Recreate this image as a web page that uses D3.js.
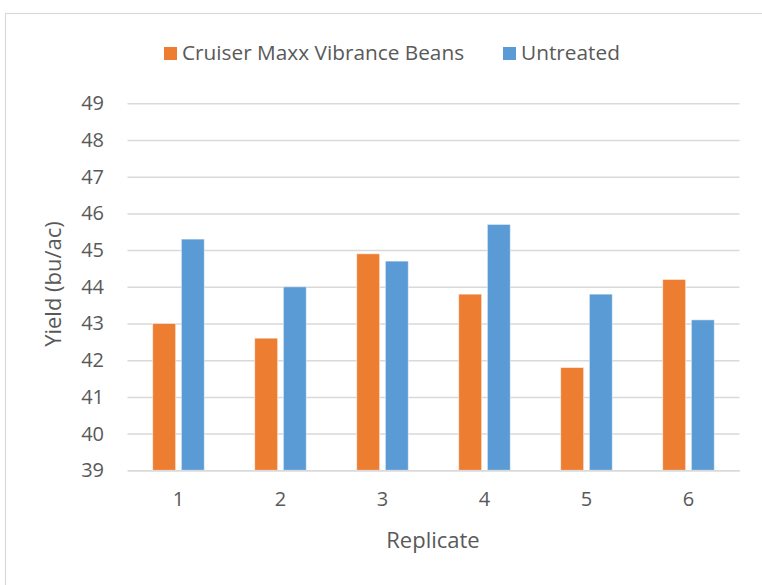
<!DOCTYPE html>
<html>
<head>
<meta charset="utf-8">
<script src="https://cdn.jsdelivr.net/npm/d3@7"></script>
<style>
  html, body { margin: 0; padding: 0; background: #fff; }
  svg text { font-family: "Open Sans", "Noto Sans", sans-serif; fill: #595959; }
</style>
</head>
<body>
<svg id="chart" width="762" height="585"></svg>
<script>
const categories = ["1", "2", "3", "4", "5", "6"];
const seriesNames = ["Cruiser Maxx Vibrance Beans", "Untreated"];
const treatedValues = [43.0, 42.6, 44.9, 43.8, 41.8, 44.2];
const untreatedValues = [45.3, 44.0, 44.7, 45.7, 43.8, 43.1];
const yTicks = [39, 40, 41, 42, 43, 44, 45, 46, 47, 48, 49];
const colors = ["#ED7D31", "#5B9BD5"];

const svg = d3.select("#chart");
const W = 762, H = 585;
const plot = { left: 127.5, right: 739.5, top: 103.3, bottom: 470.3 };

// outer border
svg.append("rect")
  .attr("x", 5.5).attr("y", 13.5)
  .attr("width", W + 10).attr("height", H + 10)
  .attr("fill", "none").attr("stroke", "#d9d9d9").attr("stroke-width", 1.2);

const y = d3.scaleLinear().domain([39, 49]).range([plot.bottom, plot.top]);
const x0 = d3.scaleBand().domain(categories).range([plot.left, plot.right])
  .paddingInner(0.494).paddingOuter(0.247);
const x1 = d3.scaleBand().domain(seriesNames).range([0, x0.bandwidth()]).paddingInner(0.2);

// gridlines
const yAxis = d3.axisLeft(y).tickValues(yTicks).tickSize(-(plot.right - plot.left)).tickFormat(d3.format("d"));
const gy = svg.append("g").attr("transform", `translate(${plot.left},0)`).call(yAxis);
gy.select(".domain").remove();
gy.selectAll(".tick line").attr("stroke", "#d9d9d9").attr("stroke-width", 1.5);
gy.selectAll(".tick text").attr("font-size", 20).attr("fill", "#595959").attr("x", -23.5);

// bars
const data = categories.map((c, i) => ({ cat: c, vals: [treatedValues[i], untreatedValues[i]] }));
const groups = svg.append("g").selectAll("g").data(data).join("g")
  .attr("transform", d => `translate(${x0(d.cat)},0)`);
groups.selectAll("rect").data(d => d.vals.map((v, j) => ({ name: seriesNames[j], v, j })))
  .join("rect")
  .attr("x", d => x1(d.name))
  .attr("width", x1.bandwidth())
  .attr("y", d => y(d.v))
  .attr("height", d => y(39) - y(d.v))
  .attr("fill", d => colors[d.j])
  .attr("stroke", "#ffffff").attr("stroke-opacity", 0.5).attr("stroke-width", 1);

// x axis
const xAxis = d3.axisBottom(x0).tickSize(0).tickPadding(22);
const gx = svg.append("g").attr("transform", `translate(0,${plot.bottom})`).call(xAxis);
gx.select(".domain").attr("stroke", "#d9d9d9").attr("stroke-width", 1.5);
gx.selectAll(".tick text").attr("font-size", 20).attr("fill", "#595959");

// axis titles
svg.append("text")
  .attr("transform", `translate(61,284) rotate(-90)`)
  .attr("text-anchor", "middle").attr("font-size", 22)
  .text("Yield (bu/ac)");
svg.append("text")
  .attr("x", 433).attr("y", 548)
  .attr("text-anchor", "middle").attr("font-size", 22)
  .text("Replicate");

// legend
const legendItems = [
  { name: seriesNames[0], color: colors[0], x: 164 },
  { name: seriesNames[1], color: colors[1], x: 503 }
];
const lg = svg.append("g").selectAll("g").data(legendItems).join("g")
  .attr("transform", d => `translate(${d.x},0)`);
lg.append("rect").attr("x", 0).attr("y", 47).attr("width", 13).attr("height", 13)
  .attr("fill", d => d.color);
lg.append("text").attr("x", 18).attr("y", 59.5).attr("font-size", 20.8)
  .text(d => d.name);
</script>
</body>
</html>
